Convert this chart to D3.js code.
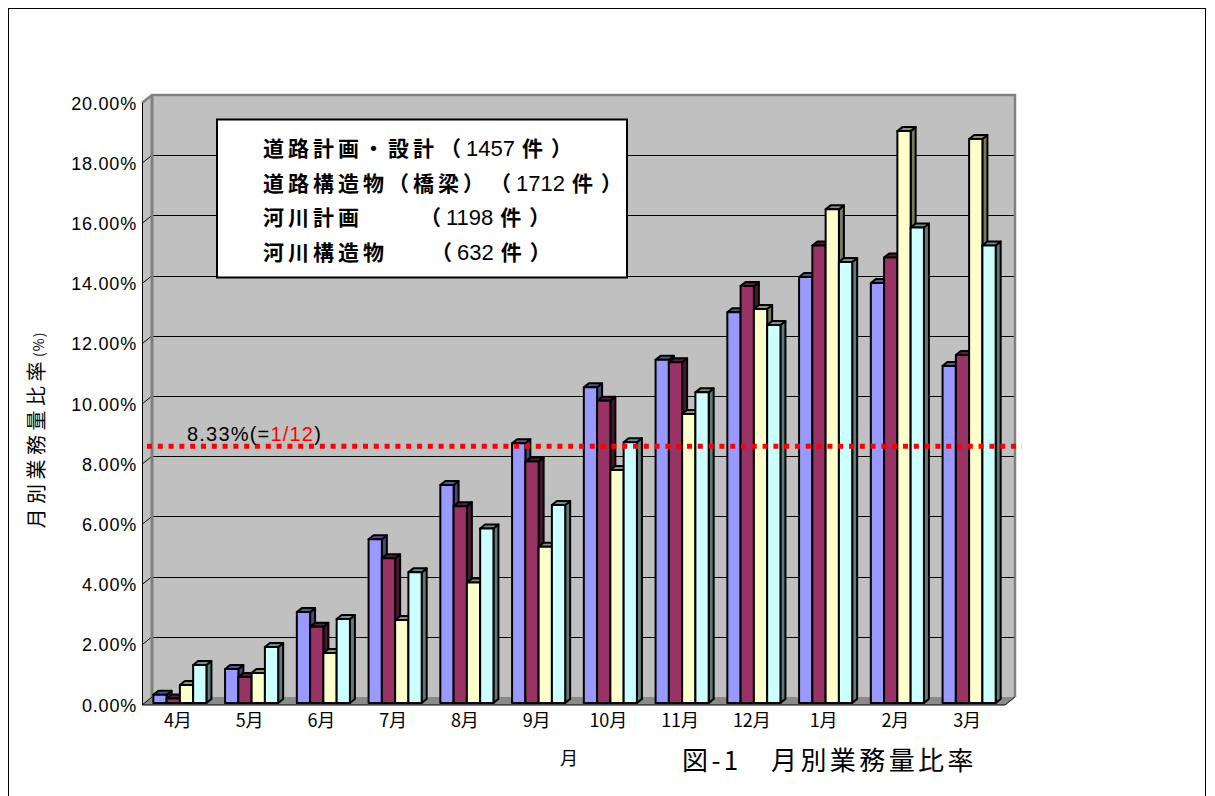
<!DOCTYPE html>
<html>
<head>
<meta charset="utf-8">
<script src="https://cdn.jsdelivr.net/npm/d3@7"></script>
<style>
  body { margin: 0; background: #fff; }
  svg { display: block; }
</style>
</head>
<body>
<div id="chart"></div>
<script>
// 月別業務量比率 data (percent)
const months = ['4月', '5月', '6月', '7月', '8月', '9月', '10月', '11月', '12月', '1月', '2月', '3月'];
const seriesNames = ['道路計画・設計', '道路構造物（橋梁）', '河川計画', '河川構造物'];
const seriesCounts = [1457, 1712, 1198, 632];
const roadPlan = [0.27, 1.13, 3.02, 5.44, 7.24, 8.63, 10.49, 11.40, 12.98, 14.15, 13.95, 11.20];
const roadStruct = [0.15, 0.86, 2.53, 4.81, 6.54, 8.02, 10.04, 11.32, 13.85, 15.20, 14.80, 11.56];
const riverPlan = [0.60, 1.00, 1.66, 2.76, 4.00, 5.19, 7.74, 9.60, 13.09, 16.40, 19.00, 18.74];
const riverStruct = [1.26, 1.86, 2.79, 4.34, 5.80, 6.58, 8.66, 10.32, 12.56, 14.65, 15.80, 15.20];
const yTicks = [0, 2, 4, 6, 8, 10, 12, 14, 16, 18, 20];
const refValue = 8.33;
const refLabel = ['8.33%(=', '1/12', ')'];

const series = [roadPlan, roadStruct, riverPlan, riverStruct];
const colors = ['#9999ff', '#993366', '#ffffcc', '#ccffff'];

const width = 1215;
const height = 796;
const cjk = '"Noto Sans CJK JP", sans-serif';
const latin = '"Liberation Sans", Arial, sans-serif';

// 3D layout: front plane, back wall offset, bar depth
const DX = 10, DY = -8;     // wall depth
const BX = 5, BY = -4;      // bar depth

const svg = d3.select('#chart')
    .append('svg')
    .attr('width', width)
    .attr('height', height);

// outer frame
svg.append('rect')
    .attr('x', 8.5).attr('y', 8.5)
    .attr('width', 1197).attr('height', 800)
    .attr('fill', 'none').attr('stroke', '#000').attr('stroke-width', 1);

// scales
const yFront = d3.scaleLinear().domain([0, 20]).range([705, 103]);
const yBack = v => yFront(v) + DY;
const yBar = d3.scaleLinear().domain([0, 20]).range([703, 101]);
const xLeft = 142, xRight = 1005;

const x = d3.scaleBand()
    .domain(months)
    .range([144, 1005])
    .paddingInner(0.26)
    .paddingOuter(0.13);
const xs = d3.scaleBand()
    .domain(d3.range(series.length))
    .range([0, x.bandwidth()]);

// back wall
svg.append('rect')
    .attr('x', xLeft + DX).attr('y', yBack(20))
    .attr('width', xRight - xLeft).attr('height', yBack(0) - yBack(20))
    .attr('fill', '#c0c0c0');

// left wall
svg.append('path')
    .attr('d', `M${xLeft},${yFront(0)}L${xLeft},${yFront(20)}L${xLeft + DX},${yBack(20)}L${xLeft + DX},${yBack(0)}Z`)
    .attr('fill', '#c0c0c0');

// floor
svg.append('path')
    .attr('d', `M${xLeft},${yFront(0)}L${xRight},${yFront(0)}L${xRight + DX},${yBack(0)}L${xLeft + DX},${yBack(0)}Z`)
    .attr('fill', '#8a8a8a');

// gridlines on back wall and left wall
const grid = svg.append('g').attr('stroke', '#000').attr('stroke-width', 1);
grid.selectAll('line.back')
    .data(yTicks.filter(d => d > 0 && d < 20))
    .join('line')
    .attr('class', 'back')
    .attr('x1', xLeft + DX).attr('x2', xRight + DX)
    .attr('y1', d => Math.round(yBack(d)) + 0.5)
    .attr('y2', d => Math.round(yBack(d)) + 0.5);
grid.selectAll('line.side')
    .data(yTicks.filter(d => d < 20))
    .join('line')
    .attr('class', 'side')
    .attr('x1', xLeft).attr('x2', xLeft + DX)
    .attr('y1', d => yFront(d))
    .attr('y2', d => yBack(d));

// wall edges
const edge = svg.append('g').attr('fill', 'none');
edge.append('path')
    .attr('d', `M${xLeft},${yFront(20)}L${xLeft + DX},${yBack(20)}L${xRight + DX},${yBack(20)}L${xRight + DX},${yBack(0)}`)
    .attr('stroke', '#808080').attr('stroke-width', 2.5);
edge.append('line')
    .attr('x1', xLeft + DX).attr('x2', xLeft + DX)
    .attr('y1', yBack(20)).attr('y2', yBack(0))
    .attr('stroke', '#808080').attr('stroke-width', 3);
edge.append('path')
    .attr('d', `M${xLeft + 0.5},${yFront(20)}L${xLeft + 0.5},${yFront(0)}L${xRight},${yFront(0)}L${xRight + DX},${yBack(0)}`)
    .attr('stroke', '#000').attr('stroke-width', 1);

// bars
const groups = svg.append('g')
    .selectAll('g')
    .data(months)
    .join('g')
    .attr('transform', d => `translate(${x(d)},0)`);

groups.each(function(m, mi) {
  const g = d3.select(this);
  series.forEach((s, si) => {
    const v = s[mi];
    const x0 = xs(si), x1 = xs(si) + xs.bandwidth();
    const y0 = yBar(0), y1 = yBar(v);
    const c = d3.color(colors[si]);
    const bar = g.append('g')
        .attr('stroke', '#000')
        .attr('stroke-width', 2)
        .attr('stroke-linejoin', 'round');
    bar.append('path')
        .attr('d', `M${x1},${y0}L${x1},${y1}L${x1 + BX},${y1 + BY}L${x1 + BX},${y0 + BY}Z`)
        .attr('fill', c.darker(2.1));
    bar.append('path')
        .attr('d', `M${x0},${y1}L${x0 + BX},${y1 + BY}L${x1 + BX},${y1 + BY}L${x1},${y1}Z`)
        .attr('fill', c.darker(1.6));
    bar.append('rect')
        .attr('x', x0).attr('y', y1)
        .attr('width', x1 - x0).attr('height', y0 - y1)
        .attr('fill', c);
  });
});

// reference line 1/12
svg.append('line')
    .attr('x1', 147).attr('x2', 1022)
    .attr('y1', yBack(refValue)).attr('y2', yBack(refValue))
    .attr('stroke', '#ff0000')
    .attr('stroke-width', 5)
    .attr('stroke-dasharray', '5 5.8');

svg.append('text')
    .attr('x', 187).attr('y', yBack(refValue) - 5)
    .attr('font-family', latin)
    .attr('font-size', 20)
    .attr('letter-spacing', 1.2)
    .selectAll('tspan')
    .data(refLabel)
    .join('tspan')
    .attr('fill', (d, i) => i === 1 ? '#ff0000' : '#000')
    .text(d => d);

// legend (text only)
const legend = svg.append('g');
legend.append('rect')
    .attr('x', 217).attr('y', 119.5)
    .attr('width', 410).attr('height', 158)
    .attr('fill', '#fff').attr('stroke', '#000').attr('stroke-width', 2);

const legendY = d3.scaleLinear().domain([0, 3]).range([156, 260]);
const parenX = [440, 490, 420, 431];
seriesNames.forEach((name, i) => {
  const t = legend.append('text')
      .attr('x', 263).attr('y', legendY(i))
      .attr('font-family', cjk)
      .attr('font-size', 21)
      .attr('font-weight', 'bold');
  t.append('tspan').attr('letter-spacing', 4).text(name);
  t.append('tspan').attr('x', parenX[i]).attr('letter-spacing', 3).text('（');
  t.append('tspan')
      .attr('dx', 2)
      .attr('font-family', latin)
      .attr('font-size', 22)
      .attr('font-weight', 'normal')
      .text(seriesCounts[i]);
  t.append('tspan').attr('dx', 7).text('件');
  t.append('tspan').attr('dx', 8).text('）');
});

// y axis labels
svg.append('g')
    .selectAll('text')
    .data(yTicks)
    .join('text')
    .attr('x', 137)
    .attr('y', d => yFront(d) + 6.5)
    .attr('text-anchor', 'end')
    .attr('font-family', latin)
    .attr('font-size', 18)
    .attr('letter-spacing', 0.8)
    .text(d => d3.format('.2f')(d) + '%');

// category labels
svg.append('g')
    .selectAll('text')
    .data(months)
    .join('text')
    .attr('x', d => x(d) + x.bandwidth() / 2 - 2)
    .attr('y', 727)
    .attr('text-anchor', 'middle')
    .attr('font-family', cjk)
    .attr('font-size', 18)
    .text(d => d);

// axis titles
svg.append('text')
    .attr('x', 569).attr('y', 765)
    .attr('text-anchor', 'middle')
    .attr('font-family', cjk)
    .attr('font-size', 18)
    .text('月');

const yTitle = svg.append('text')
    .attr('transform', 'translate(44,430) rotate(-90)')
    .attr('text-anchor', 'middle')
    .attr('font-family', cjk)
    .attr('font-size', 20)
    .attr('letter-spacing', 4.5);
yTitle.append('tspan').text('月別業務量比率');
yTitle.append('tspan').attr('font-size', 14).attr('letter-spacing', 1).text('(%)');

// chart title
svg.append('text')
    .attr('x', 682).attr('y', 770)
    .attr('font-family', cjk)
    .attr('font-size', 26)
    .attr('letter-spacing', 3.4)
    .text('図-1　月別業務量比率');
</script>
</body>
</html>
